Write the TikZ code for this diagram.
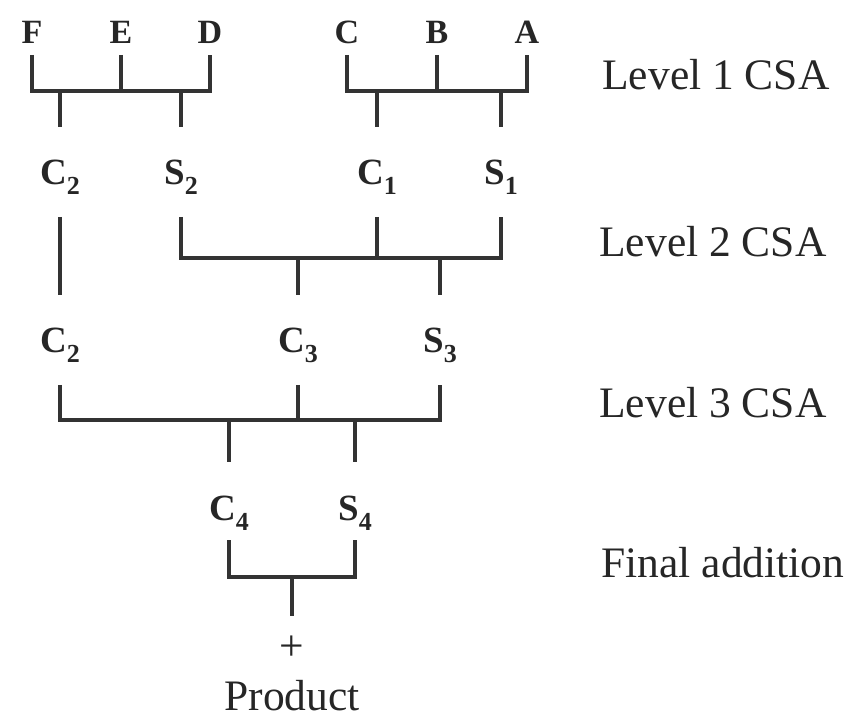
\documentclass[tikz,border=0pt]{standalone}
\usepackage{fontspec}
\setmainfont{Liberation Serif}
\usepackage{tikz}
\newcommand{\sbit}[2]{\textbf{#1}\raisebox{-5pt}{\fontsize{13}{13}\selectfont\textbf{#2}}}
\tikzstyle{wire}=[draw=black!80,line width=1.8pt]
\tikzstyle{input}=[anchor=base,inner sep=0pt,text height=11.5pt,text depth=0pt,outer ysep=5.5pt,text=black!85,font=\fontsize{17}{17}\selectfont\bfseries]
\tikzstyle{bit}=[anchor=base,inner sep=0pt,text height=13pt,text depth=0pt,outer ysep=16pt,text=black!85,font=\fontsize{18.5}{18.5}\selectfont]
\tikzstyle{level}=[anchor=base west,inner sep=0pt,text=black!85,font=\fontsize{21.75}{21.75}\selectfont]

\begin{document}
\begin{tikzpicture}[x=0.5pt,y=0.5pt]
  \useasboundingbox (0,0) rectangle (856,-721);
  \node[input] (F) at (32,-44)  {F};
  \node[input] (E) at (121,-44) {E};
  \node[input] (D) at (210,-44) {D};
  \node[input] (C) at (347,-44) {C};
  \node[input] (B) at (437,-44) {B};
  \node[input] (A) at (527,-44) {A};

  \node[bit] (c2)  at (60,-185)  {\sbit{C}{2}};
  \node[bit] (s2)  at (181,-185) {\sbit{S}{2}};
  \node[bit] (c1)  at (377,-185) {\sbit{C}{1}};
  \node[bit] (s1)  at (501,-185) {\sbit{S}{1}};
  \node[bit] (c2b) at (60,-353)  {\sbit{C}{2}};
  \node[bit] (c3)  at (298,-353) {\sbit{C}{3}};
  \node[bit] (s3)  at (440,-353) {\sbit{S}{3}};
  \node[bit] (c4)  at (229,-520) {\sbit{C}{4}};
  \node[bit] (s4)  at (355,-520) {\sbit{S}{4}};
  \node[level,anchor=center,outer ysep=10pt] (plus) at (292,-648) {+};
  \node[level,anchor=base] (prod) at (292,-710) {Product};

  \node[level] (lvl1) at (602,-90)  {Level 1 CSA};
  \node[level] (lvl2) at (599,-257) {Level 2 CSA};
  \node[level] (lvl3) at (599,-417) {Level 3 CSA};
  \node[level] (fin)  at (601,-577) {Final addition};

  \coordinate (bar1) at (0,-91);
  \coordinate (bar2) at (0,-258);
  \coordinate (bar3) at (0,-420);
  \coordinate (bar4) at (0,-577);

  % level 1
  \draw[wire] (F.south) -- (F.south |- bar1) -- (D.south |- bar1) -- (D.south);
  \draw[wire] (E.south) -- (E.south |- bar1);
  \draw[wire] (c2.north |- bar1) -- (c2.north);
  \draw[wire] (s2.north |- bar1) -- (s2.north);
  \draw[wire] (C.south) -- (C.south |- bar1) -- (A.south |- bar1) -- (A.south);
  \draw[wire] (B.south) -- (B.south |- bar1);
  \draw[wire] (c1.north |- bar1) -- (c1.north);
  \draw[wire] (s1.north |- bar1) -- (s1.north);

  % level 2
  \draw[wire] (c2.south) -- (c2b.north);
  \draw[wire] (s2.south) -- (s2.south |- bar2) -- (s1.south |- bar2) -- (s1.south);
  \draw[wire] (c1.south) -- (c1.south |- bar2);
  \draw[wire] (c3.north |- bar2) -- (c3.north);
  \draw[wire] (s3.north |- bar2) -- (s3.north);

  % level 3
  \draw[wire] (c2b.south) -- (c2b.south |- bar3) -- (s3.south |- bar3) -- (s3.south);
  \draw[wire] (c3.south) -- (c3.south |- bar3);
  \draw[wire] (c4.north |- bar3) -- (c4.north);
  \draw[wire] (s4.north |- bar3) -- (s4.north);

  % final addition
  \draw[wire] ([yshift=6pt]c4.south) -- (c4.south |- bar4) -- (s4.south |- bar4) -- ([yshift=6pt]s4.south);
  \draw[wire] (plus.north |- bar4) -- (plus.north);
\end{tikzpicture}
\end{document}
